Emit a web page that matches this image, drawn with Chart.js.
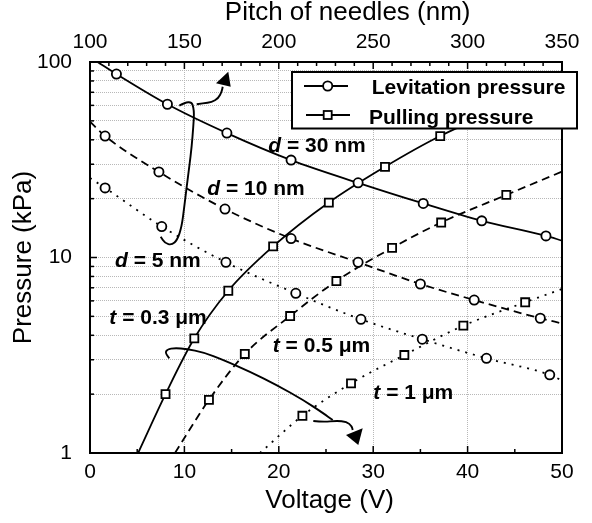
<!DOCTYPE html>
<html><head><meta charset="utf-8">
<script src="https://cdn.jsdelivr.net/npm/chart.js@4/dist/chart.umd.min.js"></script>
<style>html,body{margin:0;padding:0;background:#fff;}#wrap{width:592px;height:523px;}</style>
</head><body><div id="wrap"><canvas id="c" width="592" height="523"></canvas></div>
<script>
// ---- tick values ----
const voltageTicks = [0, 10, 20, 30, 40, 50];
const voltageMinor = [5, 15, 25, 35, 45];
const pitchTicks = [100, 150, 200, 250, 300, 350];
const pitchMinor = [110, 120, 130, 140, 160, 170, 180, 190, 210, 220, 230, 240, 260, 270, 280, 290, 310, 320, 330, 340];
const pressureTicks = [1, 2, 3, 4, 5, 6, 7, 8, 9, 10, 20, 30, 40, 50, 60, 70, 80, 90, 100];
const pressureLabels = [1, 10, 100];

// ---- Levitation pressure (circles) ----
const lev30V = [2.8, 8.2, 14.5, 21.3, 28.4, 35.3, 41.5, 48.3];
const lev30P = [86.8, 60.8, 43.3, 31.5, 24.1, 18.9, 15.4, 12.9];
const lev10V = [1.6, 7.3, 14.3, 21.3, 28.4, 35.0, 40.7, 47.7];
const lev10P = [41.8, 27.4, 17.7, 12.5, 9.45, 7.32, 6.06, 4.89];
const lev5V = [1.6, 7.6, 14.4, 21.8, 28.7, 35.2, 42.0, 48.7];
const lev5P = [22.7, 14.4, 9.45, 6.56, 4.83, 3.82, 3.05, 2.51];
// ---- Pulling pressure (squares) ----
const pul03V = [8.0, 11.05, 14.65, 19.4, 25.3, 31.25, 37.1];
const pul03P = [2.0, 3.86, 6.76, 11.4, 19.1, 29.1, 41.8];
const pul05V = [12.6, 16.4, 21.2, 26.1, 32.0, 37.2, 44.1];
const pul05P = [1.87, 3.21, 5.02, 7.58, 11.2, 15.1, 20.9];
const pul1V = [22.5, 27.65, 33.3, 39.55, 46.1];
const pul1P = [1.55, 2.27, 3.17, 4.48, 5.9];
// ---- fitted-curve end points [V, P] ----
const lev30Ends = [[0.8, 100], [50, 12.2]];
const lev10Ends = [[0, 49.5], [50, 4.6]];
const lev5Ends = [[0, 25.5], [50, 2.35]];
const pul03Ends = [[5.1, 1], [50, 78]];
const pul05Ends = [[9.0, 1], [50, 27.5]];
const pul1Ends = [[18.0, 1], [50, 6.9]];

const FAM = '"Liberation Sans", Arial, sans-serif';
const pts = (V, P) => V.map((v, i) => ({x: v, y: P[i]}));
const curve = (V, P, ends) => [{x: ends[0][0], y: ends[0][1]}, ...pts(V, P), {x: ends[1][0], y: ends[1][1]}];

function lineDs(data, dash) {
  return {type: 'line', data, showLine: true, borderColor: '#000', borderWidth: 1.8, borderDash: dash,
    pointRadius: 0, cubicInterpolationMode: 'monotone', fill: false, order: 2, clip: 0};
}
function markDs(data, style, r) {
  return {type: 'scatter', data, showLine: false, pointStyle: style, pointRadius: r, pointBorderWidth: 1.8,
    pointBackgroundColor: '#fff', pointBorderColor: '#000', order: 1};
}
const DASH = [8, 5], DOT = [2, 6];

const datasets = [
  lineDs(curve(lev30V, lev30P, lev30Ends), []),
  lineDs(curve(lev10V, lev10P, lev10Ends), DASH),
  lineDs(curve(lev5V, lev5P, lev5Ends), DOT),
  lineDs(curve(pul03V, pul03P, pul03Ends), []),
  lineDs(curve(pul05V, pul05P, pul05Ends), DASH),
  lineDs(curve(pul1V, pul1P, pul1Ends), DOT),
  markDs(pts(lev30V, lev30P), 'circle', 4.6),
  markDs(pts(lev10V, lev10P), 'circle', 4.6),
  markDs(pts(lev5V, lev5P), 'circle', 4.6),
  markDs(pts(pul03V, pul03P), 'rect', 5.7),
  markDs(pts(pul05V, pul05P), 'rect', 5.7),
  markDs(pts(pul1V, pul1P), 'rect', 5.7)
];

// annotation labels: offsets from chart area top-left (left, baseline)
const curveLabels = [
  ['d', ' = 30 nm', 178.3, 89.7],
  ['d', ' = 10 nm', 117.3, 133],
  ['d', ' = 5 nm', 25, 204.5],
  ['t', ' = 0.3 \u03bcm', 19.3, 262],
  ['t', ' = 0.5 \u03bcm', 182.7, 290.3],
  ['t', ' = 1 \u03bcm', 283.3, 337.3]
];
// arrow paths (offsets from chart area top-left)
const arrow1Loop = [[89.3,43.7],[100.7,37.3],[104.3,48],[103.3,64.7],[101.7,84.7],[99.3,104.7],[96.7,124.7],[94.3,144.7],[91.7,164.7],[87.3,178],[81.7,183],[75,181.3],[70.7,174.7]];
const arrow1Tail = [[106.7,42.3],[113.3,41.3],[121.7,40.3],[128.3,36.3],[131.7,29.7],[132.7,24.7]];
const arrow1Head = [[138.3,9.7],[126,21.3],[140.7,24.7]];
const arrow2Loop = [[79.3,296.3],[75,291.3],[77.3,287.3],[85,286],[96.7,287],[113.3,290.3],[133.3,298],[160,309.7],[186.7,323],[213.3,338],[233.3,351.3],[242.7,358]];
const arrow2Tail = [[223.3,359],[233.3,360],[246.7,358.7],[256.7,359.7],[261.7,364],[262.7,368]];
const arrow2Head = [[268.3,383],[256,373],[272.7,366.3]];

function smoothPath(ctx, a, p) {
  ctx.beginPath();
  ctx.moveTo(a.left + p[0][0], a.top + p[0][1]);
  for (let i = 1; i < p.length - 1; i++) {
    const mx = (p[i][0] + p[i + 1][0]) / 2, my = (p[i][1] + p[i + 1][1]) / 2;
    ctx.quadraticCurveTo(a.left + p[i][0], a.top + p[i][1], a.left + mx, a.top + my);
  }
  const l = p[p.length - 1];
  ctx.lineTo(a.left + l[0], a.top + l[1]);
  ctx.stroke();
}
function tri(ctx, a, p) {
  ctx.beginPath();
  ctx.moveTo(a.left + p[0][0], a.top + p[0][1]);
  ctx.lineTo(a.left + p[1][0], a.top + p[1][1]);
  ctx.lineTo(a.left + p[2][0], a.top + p[2][1]);
  ctx.closePath();
  ctx.fill();
}

const decor = {
  id: 'decor',
  afterDatasetsDraw(chart) {
    const {ctx, chartArea: a, scales} = chart;
    ctx.save();
    // annotation labels
    ctx.fillStyle = '#000';
    ctx.textBaseline = 'alphabetic';
    ctx.textAlign = 'left';
    curveLabels.forEach(([s, rest, dx, dy]) => {
      ctx.font = 'italic bold 21px ' + FAM;
      ctx.fillText(s, a.left + dx, a.top + dy);
      const w = ctx.measureText(s).width;
      ctx.font = 'bold 21px ' + FAM;
      ctx.fillText(rest, a.left + dx + w, a.top + dy);
    });
    // arrows
    ctx.strokeStyle = '#000';
    ctx.lineWidth = 1.9;
    ctx.setLineDash([]);
    smoothPath(ctx, a, arrow1Loop);
    smoothPath(ctx, a, arrow1Tail);
    tri(ctx, a, arrow1Head);
    smoothPath(ctx, a, arrow2Loop);
    smoothPath(ctx, a, arrow2Tail);
    tri(ctx, a, arrow2Head);
    // frame
    ctx.lineWidth = 2;
    ctx.strokeRect(a.left, a.top, a.right - a.left, a.bottom - a.top);
    // inward ticks
    ctx.lineWidth = 1.5;
    const seg = (x1, y1, x2, y2) => { ctx.beginPath(); ctx.moveTo(x1, y1); ctx.lineTo(x2, y2); ctx.stroke(); };
    voltageTicks.forEach(v => { const px = scales.x.getPixelForValue(v); seg(px, a.bottom, px, a.bottom - 7); });
    voltageMinor.forEach(v => { const px = scales.x.getPixelForValue(v); seg(px, a.bottom, px, a.bottom - 4); });
    pitchTicks.forEach(v => { const px = scales.x2.getPixelForValue(v); seg(px, a.top, px, a.top + 7); });
    pitchMinor.forEach(v => { const px = scales.x2.getPixelForValue(v); seg(px, a.top, px, a.top + 4); });
    pressureTicks.forEach(v => {
      const py = scales.y.getPixelForValue(v);
      seg(a.left, py, a.left + (pressureLabels.includes(v) ? 7 : 4), py);
    });
    // legend
    const lx = a.left + 202, ly = a.top + 10, lw = 285, lh = 56.5;
    ctx.fillStyle = '#fff';
    ctx.fillRect(lx, ly, lw, lh);
    ctx.lineWidth = 2;
    ctx.strokeRect(lx, ly, lw, lh);
    ctx.lineWidth = 1.8;
    const r1 = ly + 14, r2 = ly + 43;
    seg(lx + 12, r1, lx + 56, r1);
    seg(lx + 14, r2, lx + 58, r2);
    ctx.beginPath(); ctx.arc(lx + 35.7, r1, 4.6, 0, Math.PI * 2); ctx.fill(); ctx.stroke();
    ctx.fillRect(lx + 31.7, r2 - 4, 8, 8); ctx.strokeRect(lx + 31.7, r2 - 4, 8, 8);
    ctx.fillStyle = '#000';
    ctx.font = 'bold 21px ' + FAM;
    ctx.fillText('Levitation pressure', lx + 79.7, ly + 22.3);
    ctx.fillText('Pulling pressure', lx + 77, ly + 51.5);
    ctx.restore();
  }
};

const tickFont = {size: 21, family: FAM};
const titleFont = {size: 26, family: FAM, lineHeight: 1};

new Chart(document.getElementById('c'), {
  type: 'scatter',
  data: {datasets},
  options: {
    responsive: false,
    animation: false,
    events: [],
    layout: {padding: {left: 0, right: 30, top: 0, bottom: 0}},
    plugins: {legend: {display: false}, tooltip: {enabled: false}},
    scales: {
      x: {
        type: 'linear', position: 'bottom', min: 0, max: 50,
        afterBuildTicks: s => { s.ticks = voltageTicks.map(v => ({value: v})); },
        afterFit: s => { s.height = 70; },
        ticks: {font: tickFont, color: '#000', padding: 7, maxRotation: 0, autoSkip: false},
        grid: {color: '#b8b8b8', lineWidth: 1, drawTicks: false},
        border: {display: false, dash: [1, 1]},
        title: {display: true, text: ' Voltage (V)', font: titleFont, color: '#000', padding: {top: 0, bottom: 9}}
      },
      x2: {
        type: 'linear', position: 'top', min: 100, max: 350,
        afterBuildTicks: s => { s.ticks = pitchTicks.map(v => ({value: v})); },
        afterFit: s => { s.height = 62; },
        ticks: {font: tickFont, color: '#000', padding: 7, maxRotation: 0, autoSkip: false},
        grid: {display: false, drawTicks: false},
        border: {display: false},
        title: {display: true, text: '      Pitch of needles (nm)', font: titleFont, color: '#000', padding: {top: 0, bottom: 0}}
      },
      y: {
        type: 'logarithmic', position: 'left', min: 1, max: 100,
        afterBuildTicks: s => { s.ticks = pressureTicks.map(v => ({value: v})); },
        afterFit: s => { s.width = 90; },
        ticks: {font: tickFont, color: '#000', padding: 18, autoSkip: false,
          callback: v => pressureLabels.includes(v) ? String(v) : ''},
        grid: {color: '#b8b8b8', lineWidth: 1, drawTicks: false},
        border: {display: false, dash: [1, 1]},
        title: {display: true, text: 'Pressure (kPa)', font: titleFont, color: '#000', padding: {top: 11, bottom: 0}}
      }
    }
  },
  plugins: [decor]
});
</script>
</body></html>
